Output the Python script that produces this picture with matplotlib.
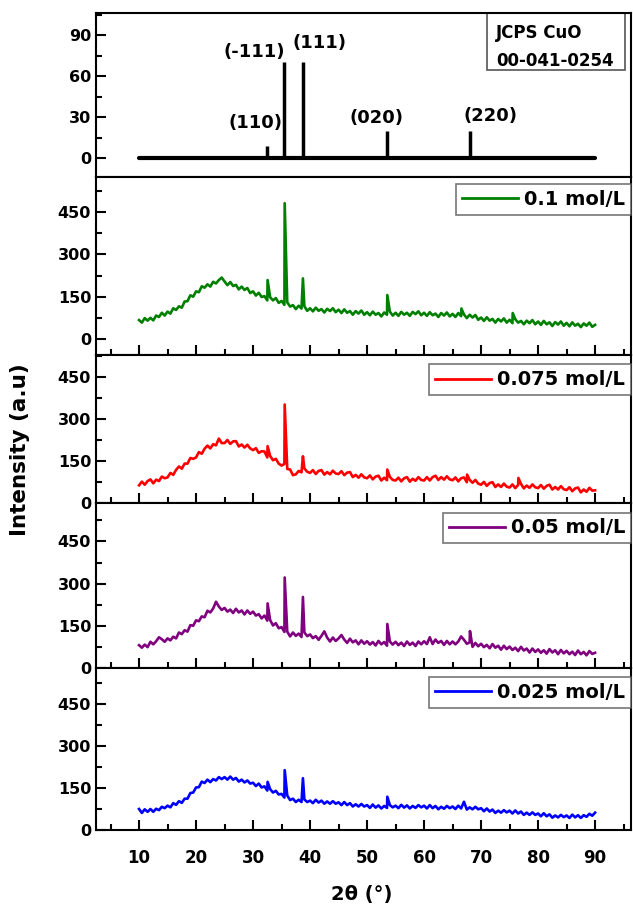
"""Stacked XRD patterns of CuO films with the JCPDS reference sticks on top."""

import matplotlib.pyplot as plt
import numpy as np
from matplotlib.patches import Rectangle
from matplotlib.ticker import MultipleLocator

plt.rcParams["font.family"] = ["DejaVu Sans"]
plt.rcParams["font.weight"] = "bold"

# reference card
JCPDS_POS = [32.5, 35.5, 38.7, 53.5, 68.1]
JCPDS_INT = [9, 70, 70, 20, 20]
HKL = ["(110)", "(-111)", "(111)", "(020)", "(220)"]
BASELINE_RANGE = [10, 90]
CARD_LINES = ["JCPS CuO", "00-041-0254"]

# measured patterns, sampled every 0.5 deg from 10 to 90
TWO_THETA = np.arange(10.0, 90.01, 0.5)

I_01 = [
    67, 58, 74, 65, 75, 66, 83, 78, 93, 83,
    97, 90, 109, 103, 116, 111, 133, 134, 155, 150,
    169, 166, 187, 182, 194, 186, 203, 197, 209, 218,
    204, 191, 202, 188, 192, 176, 186, 174, 181, 163,
    169, 154, 164, 149, 152, 137, 148, 137, 145, 128,
    135, 121, 130, 115, 120, 106, 118, 108, 116, 100,
    109, 98, 111, 100, 106, 94, 107, 99, 109, 95,
    104, 92, 105, 93, 99, 86, 99, 90, 101, 86,
    95, 84, 97, 86, 92, 80, 94, 86, 97, 83,
    93, 82, 96, 86, 93, 82, 96, 88, 98, 84,
    93, 82, 95, 84, 90, 78, 92, 83, 94, 80,
    89, 78, 92, 81, 87, 74, 86, 76, 85, 68,
    76, 64, 77, 65, 71, 58, 71, 62, 73, 58,
    68, 56, 70, 58, 64, 52, 65, 56, 67, 52,
    62, 50, 64, 52, 59, 46, 60, 51, 62, 47,
    57, 45, 59, 47, 54, 42, 55, 47, 58, 43,
    50,
]
PEAKS_01_X = [32.55, 35.55, 38.75, 53.55, 66.55, 75.55]
PEAKS_01_Y = [209, 482, 215, 156, 108, 92]

I_0075 = [
    64, 77, 66, 79, 85, 71, 84, 79, 95, 89,
    92, 108, 101, 119, 131, 123, 141, 141, 161, 158,
    163, 182, 176, 194, 205, 195, 210, 206, 230, 214,
    214, 225, 211, 220, 221, 202, 209, 198, 208, 195,
    189, 196, 179, 185, 184, 163, 168, 153, 158, 141,
    134, 140, 122, 120, 100, 103, 115, 110, 124, 112,
    108, 118, 104, 115, 118, 102, 111, 103, 116, 106,
    104, 114, 100, 109, 111, 93, 101, 91, 103, 92,
    89, 99, 85, 95, 98, 81, 91, 82, 94, 83,
    81, 91, 78, 89, 93, 77, 87, 80, 93, 83,
    81, 93, 81, 93, 98, 83, 93, 84, 96, 85,
    82, 92, 78, 89, 92, 75, 83, 73, 83, 70,
    66, 76, 62, 72, 75, 58, 67, 58, 70, 59,
    56, 67, 54, 65, 69, 53, 63, 55, 67, 57,
    54, 65, 52, 62, 66, 49, 58, 49, 61, 50,
    47, 57, 43, 53, 56, 39, 49, 41, 55, 45,
    46,
]
PEAKS_0075_X = [32.55, 35.55, 38.75, 53.55, 67.55, 76.55]
PEAKS_0075_Y = [203, 351, 167, 120, 102, 90]

I_005 = [
    82, 73, 84, 75, 94, 85, 96, 110, 103, 94,
    106, 99, 112, 106, 127, 121, 135, 130, 153, 151,
    170, 167, 184, 181, 204, 198, 212, 236, 219, 207,
    214, 201, 208, 196, 211, 198, 205, 191, 205, 193,
    201, 187, 192, 177, 187, 169, 171, 152, 160, 142,
    146, 129, 130, 113, 127, 115, 123, 111, 127, 114,
    120, 107, 114, 101, 115, 131, 109, 95, 109, 97,
    106, 118, 102, 90, 105, 92, 99, 85, 99, 87,
    96, 84, 93, 81, 97, 85, 93, 80, 95, 84,
    94, 82, 91, 79, 95, 83, 91, 79, 95, 85,
    96, 86, 110, 86, 102, 90, 97, 83, 97, 85,
    95, 85, 95, 113, 101, 87, 92, 76, 90, 78,
    87, 75, 83, 71, 86, 73, 80, 66, 80, 68,
    77, 65, 73, 61, 76, 63, 70, 56, 70, 58,
    67, 55, 64, 52, 68, 56, 64, 50, 65, 53,
    62, 50, 59, 47, 63, 50, 58, 46, 61, 51,
    55,
]
PEAKS_005_X = [32.55, 35.55, 38.75, 53.55, 68.05]
PEAKS_005_Y = [230, 322, 253, 157, 132]

I_0025 = [
    75, 61, 74, 65, 75, 65, 76, 71, 83, 78,
    87, 81, 96, 90, 103, 97, 112, 112, 132, 134,
    152, 153, 173, 168, 180, 171, 182, 177, 189, 182,
    189, 180, 191, 180, 186, 173, 180, 170, 177, 166,
    169, 157, 166, 152, 156, 141, 146, 134, 140, 127,
    129, 116, 123, 107, 112, 100, 108, 100, 109, 100,
    105, 96, 108, 98, 105, 94, 102, 94, 103, 94,
    99, 89, 100, 89, 96, 84, 92, 84, 93, 84,
    89, 79, 91, 80, 88, 77, 86, 79, 89, 81,
    87, 78, 90, 80, 88, 77, 86, 79, 89, 81,
    87, 77, 89, 78, 86, 74, 83, 76, 86, 78,
    84, 75, 87, 77, 101, 73, 81, 74, 83, 74,
    78, 67, 77, 66, 73, 61, 69, 62, 71, 63,
    69, 59, 70, 59, 66, 54, 62, 54, 63, 54,
    59, 49, 60, 49, 56, 44, 52, 45, 54, 46,
    52, 43, 55, 45, 53, 43, 53, 47, 58, 51,
    62,
]
PEAKS_0025_X = [32.55, 35.55, 38.75, 53.55]
PEAKS_0025_Y = [172, 214, 185, 119]

SERIES = [
    ("0.1 mol/L", I_01, PEAKS_01_X, PEAKS_01_Y, "#008000"),
    ("0.075 mol/L", I_0075, PEAKS_0075_X, PEAKS_0075_Y, "#ff0000"),
    ("0.05 mol/L", I_005, PEAKS_005_X, PEAKS_005_Y, "#800080"),
    ("0.025 mol/L", I_0025, PEAKS_0025_X, PEAKS_0025_Y, "#0000ff"),
]

W, H = 633, 913
# panel edges in pixels (top, bottom) and y limits
PANEL_PX = [(13.3, 177.3), (177.3, 355), (355, 503.3), (503.3, 668.3), (668.3, 830)]
YLIMS = [(-14, 106), (-57, 574), (0, 527), (0, 585), (0, 578)]
LEG_TOP = [0.040, 0.064, 0.056, 0.055]
X_LEFT, X_RIGHT = 96, 631


def style_axis(ax, show_xticks, show_xlabels):
    for sp in ax.spines.values():
        sp.set_linewidth(1.5)
    ax.set_xlim(2.45, 96.3)
    ax.xaxis.set_major_locator(MultipleLocator(10))
    ax.xaxis.set_minor_locator(MultipleLocator(5))
    ax.tick_params(axis="both", which="major", direction="in", length=7.5, width=1.5,
                   top=False, right=False, labelsize=11.5)
    ax.tick_params(axis="both", which="minor", direction="in", length=4.5, width=1.5,
                   top=False, right=False)
    ax.tick_params(axis="x", bottom=show_xticks, which="both", labelbottom=show_xlabels,
                   labelsize=12, pad=14)
    for lab in ax.get_xticklabels() + ax.get_yticklabels():
        lab.set_fontweight("bold")


fig = plt.figure(figsize=(W / 100, H / 100), dpi=100)
axes = []
for top, bot in PANEL_PX:
    ax = fig.add_axes([X_LEFT / W, 1 - bot / H, (X_RIGHT - X_LEFT) / W, (bot - top) / H])
    axes.append(ax)

# top panel: stick pattern
ax = axes[0]
ax.plot(BASELINE_RANGE, [0, 0], color="black", lw=3, solid_capstyle="round")
ax.vlines(JCPDS_POS, 0, JCPDS_INT, color="black", lw=2.5)
ax.set_ylim(*YLIMS[0])
ax.yaxis.set_major_locator(MultipleLocator(30))
ax.yaxis.set_minor_locator(MultipleLocator(15))
style_axis(ax, False, False)
label_xy = [(30.4, 26), (30.2, 78), (41.6, 84), (51.6, 29.5), (71.7, 31)]
for text, (lx, ly) in zip(HKL, label_xy):
    ax.text(lx, ly, text, ha="center", va="center", fontsize=13, fontweight="bold")
ax.add_patch(Rectangle(((487 - X_LEFT) / (X_RIGHT - X_LEFT), 1 - (70 - 13.3) / 164),
                       (625 - 487) / (X_RIGHT - X_LEFT), (70 - 13.3) / 164,
                       transform=ax.transAxes, fill=False, ec="#555555", lw=1.2))
for i, line in enumerate(CARD_LINES):
    ax.text((496 - X_LEFT) / (X_RIGHT - X_LEFT), 1 - (33 + 28 * i - 13.3) / 164, line,
            transform=ax.transAxes, ha="left", va="center", fontsize=12, fontweight="bold")

# sample panels
for i, (name, vals, pk_x, pk_y, color) in enumerate(SERIES):
    ax = axes[i + 1]
    x = np.concatenate([TWO_THETA, pk_x])
    y = np.concatenate([np.asarray(vals, float), pk_y])
    order = np.argsort(x)
    ax.plot(x[order], y[order], color=color, lw=1.9, label=name)
    ax.set_ylim(*YLIMS[i + 1])
    ax.yaxis.set_major_locator(MultipleLocator(150))
    ax.yaxis.set_minor_locator(MultipleLocator(75))
    style_axis(ax, True, i == len(SERIES) - 1)
    leg = ax.legend(loc="upper right", bbox_to_anchor=(1.0, 1 - LEG_TOP[i]), borderaxespad=0,
                    fancybox=False, handlelength=2.9, handletextpad=0.3, borderpad=0.3,
                    prop={"size": 14, "weight": "bold"})
    leg.get_frame().set_edgecolor("#555555")
    leg.get_frame().set_linewidth(1.2)
    leg.get_lines()[0].set_linewidth(2)

fig.text(20 / W, 1 - 450 / H, "Intensity (a.u)", rotation=90, ha="center", va="center",
         fontsize=15.5, fontweight="bold")
fig.text(362 / W, 1 - 894 / H, "2θ (°)", ha="center", va="center", fontsize=14,
         fontweight="bold")

fig.savefig("out.png", dpi=100)
